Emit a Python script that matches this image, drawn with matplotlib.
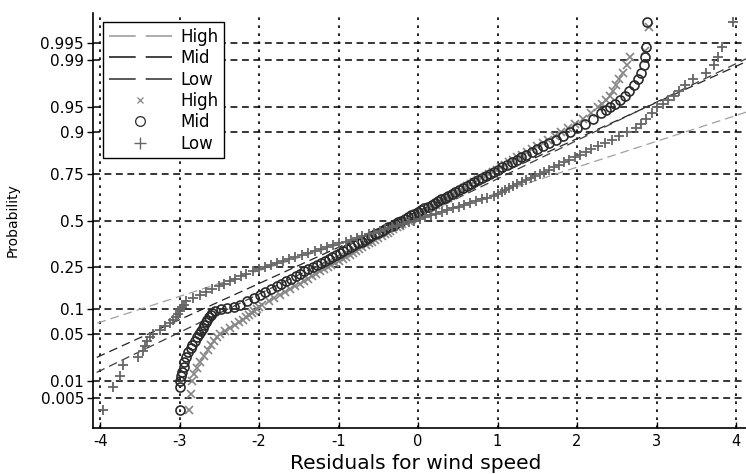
import numpy as np
import matplotlib
matplotlib.use("Agg")
import matplotlib.pyplot as plt
from matplotlib.lines import Line2D
from matplotlib.ticker import NullLocator
from statistics import NormalDist

# probability grid shared by the middle of every sample
p_core = [0.11, 0.12, 0.13, 0.14, 0.15, 0.16, 0.17, 0.18, 0.19, 0.20,
          0.21, 0.22, 0.23, 0.24, 0.25, 0.26, 0.27, 0.28, 0.29, 0.30,
          0.31, 0.32, 0.33, 0.34, 0.35, 0.36, 0.37, 0.38, 0.39, 0.40,
          0.41, 0.42, 0.43, 0.44, 0.45, 0.46, 0.47, 0.48, 0.49, 0.50,
          0.51, 0.52, 0.53, 0.54, 0.55, 0.56, 0.57, 0.58, 0.59, 0.60,
          0.61, 0.62, 0.63, 0.64, 0.65, 0.66, 0.67, 0.68, 0.69, 0.70,
          0.71, 0.72, 0.73, 0.74, 0.75, 0.76, 0.77, 0.78, 0.79, 0.80,
          0.81, 0.82, 0.83, 0.84, 0.85, 0.86, 0.87, 0.88, 0.89, 0.90]

# High (x markers)
high_p_low = [0.003, 0.006, 0.010, 0.013, 0.016, 0.020, 0.025, 0.030, 0.035, 0.040,
              0.045, 0.050, 0.055, 0.060, 0.065, 0.070, 0.075, 0.080, 0.085, 0.090,
              0.095, 0.100, 0.105]
high_x_low = [-2.88, -2.86, -2.85, -2.82, -2.78, -2.74, -2.69, -2.64, -2.60, -2.57,
              -2.53, -2.49, -2.43, -2.36, -2.30, -2.25, -2.20, -2.16, -2.13, -2.09,
              -2.06, -2.03, -2.00]
high_x_core = [-1.96, -1.88, -1.81, -1.74, -1.67, -1.61, -1.55, -1.49, -1.44, -1.38,
               -1.33, -1.28, -1.23, -1.18, -1.13, -1.09, -1.04, -1.00, -0.95, -0.91,
               -0.86, -0.82, -0.78, -0.74, -0.70, -0.66, -0.62, -0.58, -0.54, -0.50,
               -0.46, -0.42, -0.38, -0.35, -0.31, -0.27, -0.23, -0.20, -0.16, -0.12,
               -0.08, -0.05, -0.01, 0.03, 0.07, 0.11, 0.14, 0.18, 0.22, 0.26,
               0.30, 0.34, 0.38, 0.42, 0.46, 0.50, 0.54, 0.58, 0.62, 0.67,
               0.71, 0.76, 0.80, 0.85, 0.89, 0.94, 0.99, 1.04, 1.09, 1.14,
               1.20, 1.25, 1.31, 1.37, 1.43, 1.50, 1.57, 1.64, 1.72, 1.80]
high_p_high = [0.91, 0.92, 0.93, 0.94, 0.95, 0.955, 0.96, 0.965, 0.97, 0.975,
               0.98, 0.984, 0.988, 0.991, 0.993, 0.9975]
high_x_high = [1.89, 1.98, 2.07, 2.17, 2.27, 2.32, 2.37, 2.41, 2.45, 2.49,
               2.53, 2.58, 2.63, 2.67, 2.86, 2.90]

# Mid (circles)
mid_p_low = [0.003, 0.008, 0.010, 0.012, 0.014, 0.017, 0.020, 0.024, 0.028, 0.032,
             0.036, 0.040, 0.045, 0.050, 0.055, 0.060, 0.065, 0.070, 0.075, 0.080,
             0.085, 0.090, 0.095, 0.100, 0.103, 0.106]
mid_x_low = [-3.00, -3.00, -2.99, -2.98, -2.97, -2.95, -2.94, -2.92, -2.89, -2.86,
             -2.84, -2.81, -2.78, -2.76, -2.73, -2.71, -2.69, -2.67, -2.65, -2.63,
             -2.61, -2.59, -2.56, -2.48, -2.40, -2.32]
mid_x_core = [-2.24, -2.15, -2.07, -1.99, -1.92, -1.85, -1.78, -1.72, -1.66, -1.60,
              -1.54, -1.48, -1.43, -1.38, -1.32, -1.27, -1.22, -1.17, -1.12, -1.08,
              -1.03, -0.98, -0.94, -0.89, -0.85, -0.80, -0.76, -0.71, -0.67, -0.63,
              -0.59, -0.54, -0.50, -0.46, -0.42, -0.38, -0.33, -0.29, -0.25, -0.21,
              -0.17, -0.13, -0.09, -0.05, 0.00, 0.04, 0.08, 0.12, 0.17, 0.21,
              0.25, 0.29, 0.34, 0.38, 0.43, 0.47, 0.52, 0.56, 0.61, 0.66,
              0.70, 0.75, 0.80, 0.85, 0.90, 0.96, 1.01, 1.06, 1.12, 1.18,
              1.24, 1.30, 1.36, 1.43, 1.50, 1.57, 1.65, 1.73, 1.82, 1.91]
mid_p_high = [0.91, 0.92, 0.93, 0.94, 0.945, 0.95, 0.955, 0.96, 0.965, 0.97,
              0.975, 0.98, 0.984, 0.988, 0.991, 0.994, 0.998]
mid_x_high = [2.00, 2.10, 2.20, 2.30, 2.36, 2.42, 2.48, 2.54, 2.60, 2.66,
              2.72, 2.77, 2.81, 2.84, 2.86, 2.87, 2.88]

# Low (+ markers)
low_p_low = [0.003, 0.008, 0.012, 0.018, 0.024, 0.029, 0.034, 0.040, 0.045, 0.050,
             0.056, 0.063, 0.069, 0.074, 0.080, 0.087, 0.094, 0.100, 0.105]
low_x_low = [-3.96, -3.84, -3.75, -3.71, -3.53, -3.46, -3.44, -3.41, -3.37, -3.33,
             -3.25, -3.18, -3.12, -3.08, -3.05, -3.02, -3.00, -2.99, -2.97]
low_x_core = [-2.95, -2.92, -2.83, -2.75, -2.67, -2.59, -2.51, -2.44, -2.37, -2.30,
              -2.23, -2.16, -2.08, -2.00, -1.93, -1.85, -1.78, -1.70, -1.63, -1.55,
              -1.46, -1.38, -1.30, -1.22, -1.15, -1.07, -0.99, -0.91, -0.84, -0.77,
              -0.70, -0.62, -0.55, -0.48, -0.41, -0.33, -0.26, -0.19, -0.12, -0.05,
              0.02, 0.09, 0.16, 0.23, 0.30, 0.37, 0.44, 0.51, 0.58, 0.65,
              0.73, 0.80, 0.87, 0.95, 1.00, 1.05, 1.10, 1.15, 1.20, 1.25,
              1.31, 1.36, 1.42, 1.47, 1.53, 1.59, 1.65, 1.71, 1.77, 1.84,
              1.90, 1.97, 2.04, 2.11, 2.18, 2.26, 2.35, 2.44, 2.53, 2.63]
low_p_high = [0.91, 0.92, 0.93, 0.94, 0.95, 0.955, 0.96, 0.965, 0.97, 0.975,
              0.98, 0.984, 0.988, 0.991, 0.994, 0.998]
low_x_high = [2.74, 2.80, 2.87, 2.94, 3.00, 3.08, 3.15, 3.22, 3.28, 3.36,
              3.46, 3.62, 3.72, 3.77, 3.82, 3.96]

# reference lines (probability at the two x ends)
line_x = [-4.2, 4.2]
high_line_p = [0.0605, 0.945]
mid_line_p = [0.0193, 0.9904]
low_line_p = [0.0110, 0.9915]

prob_ticks = [0.005, 0.01, 0.05, 0.1, 0.25, 0.5, 0.75, 0.9, 0.95, 0.99, 0.995]
prob_labels = ["0.005", "0.01", "0.05", "0.1", "0.25", "0.5", "0.75", "0.9", "0.95", "0.99", "0.995"]
x_ticks = [-4, -3, -2, -1, 0, 1, 2, 3, 4]

nd = NormalDist()


def prob_to_z(p):
    p = np.asarray(p, dtype=float)
    ok = np.isfinite(p)
    q = np.clip(np.where(ok, p, 0.5), 1e-12, 1 - 1e-12)
    z = np.vectorize(nd.inv_cdf, otypes=[float])(q)
    return np.where(ok, z, np.nan)


def z_to_prob(z):
    z = np.asarray(z, dtype=float)
    return np.vectorize(nd.cdf, otypes=[float])(z)


plt.rcParams['axes.unicode_minus'] = False
plt.rcParams['font.family'] = 'DejaVu Sans'

fig = plt.figure(figsize=(7.46, 4.74), dpi=100)
ax = fig.add_axes([93 / 746, 46 / 474, 653 / 746, 415 / 474])
ax.set_yscale('function', functions=(prob_to_z, z_to_prob))

c_high_line, c_mid_line, c_low_line = '#a0a0a0', '#222222', '#3c3c3c'
c_high, c_mid, c_low = '#858585', '#2a2a2a', '#666666'
dash = (0, (7, 4))

ax.plot(line_x, high_line_p, color=c_high_line, lw=0.9, ls=dash, zorder=2)
ax.plot(line_x, mid_line_p, color=c_mid_line, lw=0.9, ls=dash, zorder=2)
ax.plot(line_x, low_line_p, color=c_low_line, lw=0.9, ls=dash, zorder=2)

high_p = high_p_low + p_core + high_p_high
high_x = high_x_low + high_x_core + high_x_high
mid_p = mid_p_low + p_core + mid_p_high
mid_x = mid_x_low + mid_x_core + mid_x_high
low_p = low_p_low + p_core + low_p_high
low_x = low_x_low + low_x_core + low_x_high

ax.plot(high_x, high_p, ls='none', marker='x', ms=5.5, mew=1.2, color=c_high, zorder=3)
ax.plot(mid_x, mid_p, ls='none', marker='o', ms=6.5, mew=1.2, mfc='none', mec=c_mid, zorder=4)
ax.plot(low_x, low_p, ls='none', marker='+', ms=7.5, mew=1.3, color=c_low, zorder=5)

ax.set_xlim(-4.09, 4.126)
ax.set_ylim(z_to_prob(-3.01), z_to_prob(3.01))
ax.set_xticks(x_ticks)
ax.set_xticklabels([str(t) for t in x_ticks])
ax.set_yticks(prob_ticks)
ax.set_yticklabels(prob_labels)
ax.yaxis.set_minor_locator(NullLocator())
ax.xaxis.set_minor_locator(NullLocator())

ax.xaxis.grid(True, color='black', ls=(0, (1.6, 3.2)), lw=1.2)
ax.yaxis.grid(True, color='black', ls=(0, (4.5, 3)), lw=1.1)
ax.set_axisbelow(True)

for side in ['top', 'right']:
    ax.spines[side].set_visible(False)
for side in ['left', 'bottom']:
    ax.spines[side].set_linewidth(1.2)

ax.tick_params(axis='x', direction='in', length=4.5, width=1, pad=4.5, labelsize=10.5)
ax.tick_params(axis='y', direction='out', length=4, width=1, pad=2.5, labelsize=11)

ax.set_xlabel('Residuals for wind speed', fontsize=14.5, va='top')
ax.xaxis.set_label_coords(0.494, -0.063)
ax.set_ylabel('Probability', fontsize=10)
ax.yaxis.set_label_coords(-0.112, 0.5)

handles = [
    Line2D([], [], color=c_high_line, lw=1.2, ls=(0, (16, 6))),
    Line2D([], [], color=c_mid_line, lw=1.2, ls=(0, (16, 6))),
    Line2D([], [], color=c_low_line, lw=1.2, ls=(0, (16, 6))),
    Line2D([], [], ls='none', marker='x', ms=5, mew=0.9, color=c_high),
    Line2D([], [], ls='none', marker='o', ms=7, mew=0.9, mfc='none', mec=c_mid),
    Line2D([], [], ls='none', marker='+', ms=8, mew=1.0, color=c_low),
]
labels = ['High', 'Mid', 'Low', 'High', 'Mid', 'Low']
leg = ax.legend(handles, labels, loc='upper left', bbox_to_anchor=(0.0153, 0.978),
                borderaxespad=0, fontsize=12, handlelength=3.8, handletextpad=0.5,
                labelspacing=0.2, borderpad=0.35, numpoints=1,
                frameon=True, fancybox=False, edgecolor='black', framealpha=1)
leg.get_frame().set_linewidth(1.0)
leg.set_zorder(10)

fig.savefig('out.png', dpi=100)
